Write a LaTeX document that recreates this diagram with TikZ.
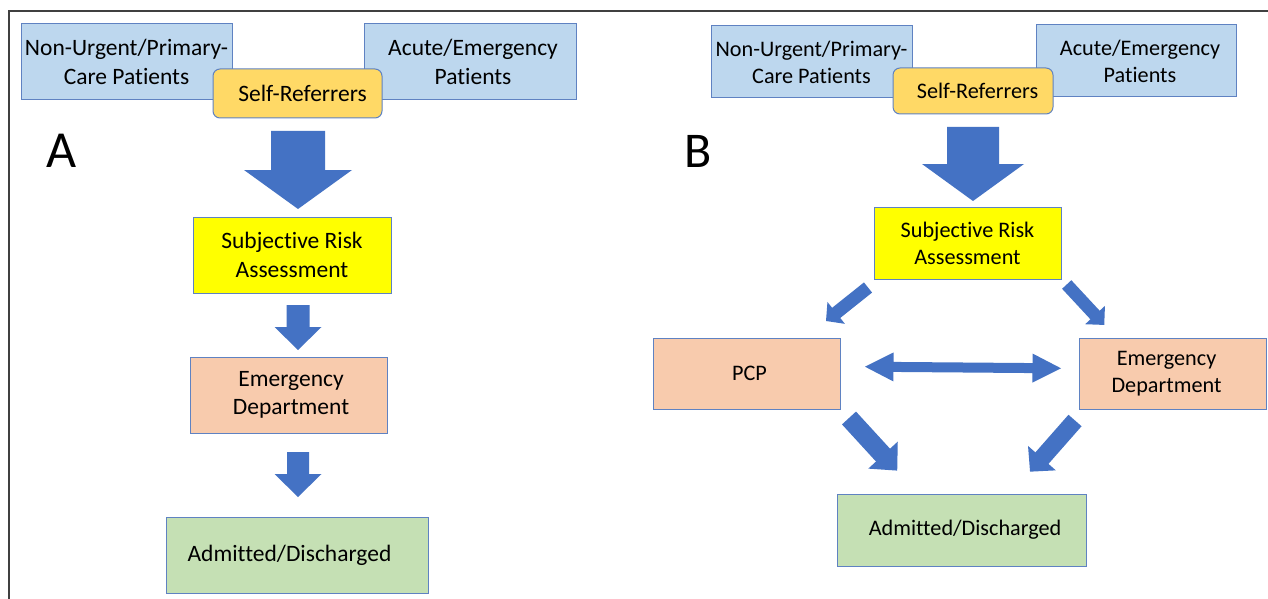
\documentclass[tikz,border=0pt]{standalone}
\usepackage{fontspec}
\setmainfont{Carlito}[Ligatures=NoCommon]
\usetikzlibrary{calc}
\definecolor{bluefill}{HTML}{BDD7EE}
\definecolor{selffill}{HTML}{FFD966}
\definecolor{riskfill}{HTML}{FFFF00}
\definecolor{edfill}{HTML}{F8CBAD}
\definecolor{admfill}{HTML}{C5E0B4}
\definecolor{boxline}{HTML}{5F82C2}
\definecolor{arrowcol}{HTML}{4472C4}
\definecolor{framecol}{HTML}{404040}
\newcommand{\blockarr}[5]{%
  \pgfpointdiff{\pgfpointanchor{#1}{center}}{\pgfpointanchor{#2}{center}}%
  \pgfgetlastxy{\bax}{\bay}%
  \pgfmathsetmacro{\balen}{veclen(\bax,\bay)}%
  \pgfmathsetmacro{\baang}{atan2(\bay,\bax)}%
  \fill[arrowcol, shift={(#1)}, rotate=\baang]
    (0pt,#3) -- ({\balen pt-#5},#3) -- ({\balen pt-#5},#4) -- (\balen pt,0pt)
    -- ({\balen pt-#5},-#4) -- ({\balen pt-#5},-#3) -- (0pt,-#3) -- cycle;}
\newcommand{\dblarr}[5]{%
  \pgfpointdiff{\pgfpointanchor{#1}{center}}{\pgfpointanchor{#2}{center}}%
  \pgfgetlastxy{\bax}{\bay}%
  \pgfmathsetmacro{\balen}{veclen(\bax,\bay)}%
  \pgfmathsetmacro{\baang}{atan2(\bay,\bax)}%
  \fill[arrowcol, shift={(#1)}, rotate=\baang]
    (0pt,0pt) -- (#5,#4) -- (#5,#3) -- ({\balen pt-#5},#3) -- ({\balen pt-#5},#4)
    -- (\balen pt,0pt) -- ({\balen pt-#5},-#4) -- ({\balen pt-#5},-#3)
    -- (#5,-#3) -- (#5,-#4) -- cycle;}
\tikzset{
  box/.style={draw=boxline, line width=1pt, inner sep=0pt, align=center},
  fa/.style={font=\fontsize{23.5}{28.5}\selectfont},
  fb/.style={font=\fontsize{22.2}{27}\selectfont},
  patient/.style={box, fill=bluefill},
  selfref/.style={box, fill=selffill, rounded corners=7pt},
  risk/.style={box, fill=riskfill},
  dept/.style={box, fill=edfill},
  outcome/.style={box, fill=admfill},
  panel/.style={inner sep=0pt, anchor=base west}
}
\begin{document}
\begin{tikzpicture}[x=1pt, y=-1pt]
\useasboundingbox (0,0) rectangle (1268,599);
\fill[white] (0,0) rectangle (1268,599);
% frame
\draw[framecol, line width=2pt] (8.5,599) -- (8.5,11.5) -- (1268,11.5);

% ---------- Panel A ----------
\node[patient, fa, minimum width=211pt, minimum height=76pt] (nuA) at (126.5,62) {Non-Urgent/Primary-\\Care Patients};
\node[patient, fa, minimum width=212pt, minimum height=76pt] (acA) at (470,62) {\hspace*{6pt}Acute/Emergency\\\hspace*{6pt}Patients};
\node[selfref, fa, minimum width=169pt, minimum height=49pt] (srA) at (297.5,93.5) {\hspace*{10pt}Self-Referrers};
\node[panel, font=\fontsize{52}{62}\selectfont] (labA) at (46,167) {A};
\node[risk, fa, minimum width=198pt, minimum height=76pt] (sbA) at (292,255) {Subjective Risk\\Assessment};
\node[dept, fa, minimum width=197pt, minimum height=76pt] (edA) at (288.5,395) {\hspace*{5pt}Emergency\\\hspace*{5pt}Department};
\node[outcome, fa, minimum width=262pt, minimum height=76pt] (adA) at (297,555) {\hspace*{-15pt}Admitted/Discharged};

\coordinate (a1s) at (298,131);  \coordinate (a1e) at (298,209);
\coordinate (a2s) at (298,305);  \coordinate (a2e) at (298,350);
\coordinate (a3s) at (298,452);  \coordinate (a3e) at (298,497);
\blockarr{a1s}{a1e}{27pt}{54pt}{39pt}
\blockarr{a2s}{a2e}{11.5pt}{23.5pt}{23pt}
\blockarr{a3s}{a3e}{11pt}{23.5pt}{23pt}

% ---------- Panel B ----------
\node[patient, fb, minimum width=201pt, minimum height=72pt] (nuB) at (811.5,62) {Non-Urgent/Primary-\\Care Patients};
\node[patient, fb, minimum width=200pt, minimum height=72pt] (acB) at (1136,61) {\hspace*{8pt}Acute/Emergency\\\hspace*{8pt}Patients};
\node[selfref, fb, minimum width=160pt, minimum height=46pt] (srB) at (973,91) {\hspace*{9pt}Self-Referrers};
\node[panel, font=\fontsize{50}{60}\selectfont] (labB) at (684,167) {B};
\node[risk, fb, minimum width=187pt, minimum height=72pt] (sbB) at (967.5,243) {Subjective Risk\\Assessment};
\node[dept, fb, minimum width=187pt, minimum height=71pt] (pcp) at (746.5,373.5) {\hspace*{6pt}PCP};
\node[dept, fb, minimum width=187pt, minimum height=71pt] (edB) at (1172.5,373.5) {\hspace*{-12pt}Emergency\\\hspace*{-12pt}Department};
\node[outcome, fb, minimum width=249pt, minimum height=72pt] (adB) at (961.5,530) {\hspace*{7pt}Admitted/Discharged};

\coordinate (b1s) at (973,127);     \coordinate (b1e) at (973,201);
\coordinate (b2s) at (868,287.5);   \coordinate (b2e) at (826,321);
\coordinate (b3s) at (1066.7,284.5);\coordinate (b3e) at (1104.3,325);
\coordinate (b4s) at (865,366.7);   \coordinate (b4e) at (1061,368.3);
\coordinate (b5s) at (849,418);     \coordinate (b5e) at (897.3,470.7);
\coordinate (b6s) at (1075,420.5);  \coordinate (b6e) at (1030,471.7);
\blockarr{b1s}{b1e}{26pt}{51pt}{37pt}
\blockarr{b2s}{b2e}{6.5pt}{14pt}{13pt}
\blockarr{b3s}{b3e}{6.3pt}{13.5pt}{13.5pt}
\dblarr{b4s}{b4e}{5pt}{14.5pt}{28.5pt}
\blockarr{b5s}{b5e}{9.5pt}{20pt}{21pt}
\blockarr{b6s}{b6e}{8.7pt}{18.5pt}{18pt}
\end{tikzpicture}
\end{document}
